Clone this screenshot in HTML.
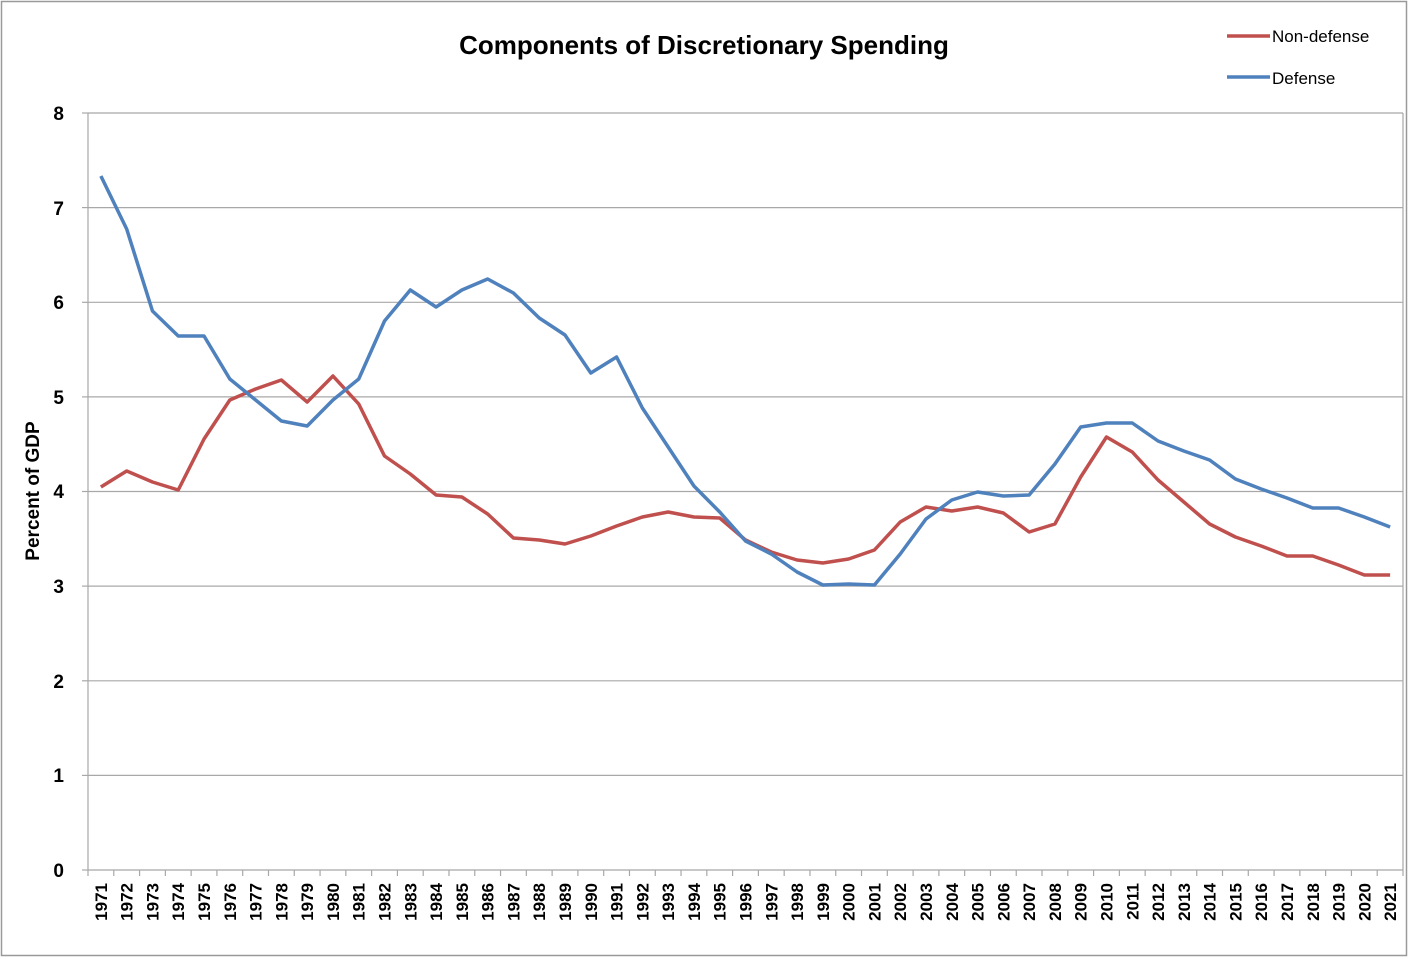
<!DOCTYPE html>
<html><head><meta charset="utf-8"><style>body{margin:0;background:#fff}svg{display:block}</style></head><body>
<svg width="1409" height="959" xmlns="http://www.w3.org/2000/svg" font-family="Liberation Sans, sans-serif">
<rect x="1.5" y="1.5" width="1405" height="954" fill="#fff" stroke="#999" stroke-width="1.5"/>
<text x="704" y="54" text-anchor="middle" font-size="26" font-weight="bold">Components of Discretionary Spending</text>
<g stroke="#a8a8a8" stroke-width="1.2">
<line x1="88" x2="1403" y1="113" y2="113"/><line x1="88" x2="1403" y1="207.6" y2="207.6"/><line x1="88" x2="1403" y1="302.3" y2="302.3"/><line x1="88" x2="1403" y1="396.9" y2="396.9"/><line x1="88" x2="1403" y1="491.5" y2="491.5"/><line x1="88" x2="1403" y1="586.1" y2="586.1"/><line x1="88" x2="1403" y1="680.8" y2="680.8"/><line x1="88" x2="1403" y1="775.4" y2="775.4"/><line x1="88" x2="1403" y1="870" y2="870"/>
<line x1="88" x2="88" y1="113" y2="870"/><line x1="1403" x2="1403" y1="113" y2="870"/>
<line x1="82" x2="88" y1="113" y2="113"/><line x1="82" x2="88" y1="207.6" y2="207.6"/><line x1="82" x2="88" y1="302.3" y2="302.3"/><line x1="82" x2="88" y1="396.9" y2="396.9"/><line x1="82" x2="88" y1="491.5" y2="491.5"/><line x1="82" x2="88" y1="586.1" y2="586.1"/><line x1="82" x2="88" y1="680.8" y2="680.8"/><line x1="82" x2="88" y1="775.4" y2="775.4"/><line x1="82" x2="88" y1="870" y2="870"/>
</g>
<g id="ticks" stroke="#a8a8a8" stroke-width="1.2"></g>
<g font-size="19" font-weight="bold" text-anchor="end">
<text x="64" y="120">8</text><text x="64" y="215">7</text><text x="64" y="309">6</text><text x="64" y="404">5</text><text x="64" y="498">4</text><text x="64" y="593">3</text><text x="64" y="688">2</text><text x="64" y="782">1</text><text x="64" y="877">0</text>
</g>
<text transform="translate(39,491) rotate(-90)" text-anchor="middle" font-size="19" font-weight="bold">Percent of GDP</text>
<g id="yl" font-size="17" font-weight="bold"></g>
<polyline id="nd" fill="none" stroke="#c0504d" stroke-width="3.5" stroke-linejoin="round"/>
<polyline id="df" fill="none" stroke="#4f81bd" stroke-width="3.5" stroke-linejoin="round"/>
<line x1="1227" x2="1270" y1="36" y2="36" stroke="#c0504d" stroke-width="3.5"/>
<text x="1272" y="42" font-size="17">Non-defense</text>
<line x1="1227" x2="1270" y1="77" y2="77" stroke="#4f81bd" stroke-width="3.5"/>
<text x="1272" y="84" font-size="17">Defense</text>
<script>
var D=[177,230,312,337,337,380,401,422,427,401,380,322,291,308,291,280,294,319,336,374,358,409,448,487,513,542,555,573,586,585,586,555,520,501,493,497,496,465,428,424,424,442,452,461,480,490,499,509,509,518,528];
var N=[488,472,483,491,440,401,390,381,403,377,405,457,475,496,498,515,539,541,545,537,527,518,513,518,519,541,553,561,564,560,551,523,508,512,508,514,533,525,478,438,453,481,503,525,538,547,557,557,566,576,576];
var w=1315/51,ns="http://www.w3.org/2000/svg";
function X(i){return 88+w*(i+0.5)}
document.getElementById('df').setAttribute('points',D.map((v,i)=>X(i)+','+(v-1)).join(' '));
document.getElementById('nd').setAttribute('points',N.map((v,i)=>X(i)+','+(v-1)).join(' '));
var t=document.getElementById('ticks'),yl=document.getElementById('yl');
for(var i=0;i<=51;i++){var l=document.createElementNS(ns,'line');var x=88+w*i;l.setAttribute('x1',x);l.setAttribute('x2',x);l.setAttribute('y1',870);l.setAttribute('y2',876);t.appendChild(l);}
for(var i=0;i<51;i++){var s=document.createElementNS(ns,'text');s.setAttribute('text-anchor','end');s.setAttribute('transform','translate('+(X(i)+6)+',883) rotate(-90)');s.textContent=1971+i;yl.appendChild(s);}
</script>
</svg>
</body></html>
